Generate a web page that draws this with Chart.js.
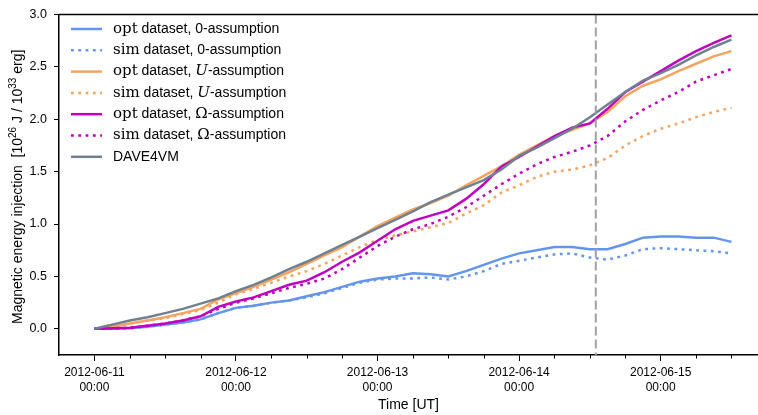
<!DOCTYPE html>
<html>
<head>
  <title>Magnetic energy injection</title>
  <script src="https://cdn.jsdelivr.net/npm/chart.js"></script>
  <style>
    body { margin: 0; background: #fff; overflow: hidden; }
  </style>
</head>
<body>
  <canvas id="energyChart" width="758" height="415"></canvas>

  <script>
    // hours since 2012-06-11 00:00 UT
    const hours = [0, 3, 6, 9, 12, 15, 18, 21, 24, 27, 30, 33, 36, 39, 42, 45, 48, 51, 54,
                   57, 60, 63, 66, 69, 72, 75, 78, 81, 84, 87, 90, 93, 96, 99, 102, 105, 108];
    const dayLabels = ['2012-06-11', '2012-06-12', '2012-06-13', '2012-06-14', '2012-06-15'];
    const hourLabel = '00:00';
    const yTicks = [0.0, 0.5, 1.0, 1.5, 2.0, 2.5, 3.0];
    const flareHour = 85;

    // energy injection [1e26 J]
    const optZero = [0, 0.0, 0.005, 0.02, 0.04, 0.06, 0.09, 0.15, 0.20, 0.22, 0.25, 0.27, 0.31,
                     0.35, 0.40, 0.45, 0.48, 0.50, 0.53, 0.52, 0.50, 0.55, 0.61, 0.67, 0.72,
                     0.75, 0.78, 0.78, 0.76, 0.76, 0.81, 0.87, 0.88, 0.88, 0.87, 0.87, 0.83];
    const simZero = [0, 0.0, 0.005, 0.02, 0.04, 0.06, 0.09, 0.15, 0.20, 0.22, 0.25, 0.27, 0.30,
                     0.34, 0.39, 0.44, 0.47, 0.48, 0.48, 0.49, 0.47, 0.50, 0.55, 0.62, 0.65,
                     0.68, 0.71, 0.72, 0.68, 0.66, 0.70, 0.76, 0.77, 0.76, 0.75, 0.74, 0.72];
    const optU = [0, 0.02, 0.05, 0.08, 0.11, 0.15, 0.19, 0.28, 0.34, 0.40, 0.47, 0.54, 0.62,
                  0.70, 0.78, 0.88, 0.98, 1.06, 1.14, 1.20, 1.27, 1.37, 1.46, 1.55, 1.66,
                  1.75, 1.84, 1.90, 1.96, 2.07, 2.22, 2.32, 2.38, 2.46, 2.53, 2.60, 2.65];
    const simU = [0, 0.02, 0.05, 0.08, 0.10, 0.14, 0.18, 0.25, 0.33, 0.38, 0.44, 0.50, 0.55,
                  0.62, 0.70, 0.78, 0.85, 0.89, 0.93, 0.97, 1.01, 1.10, 1.18, 1.30, 1.37,
                  1.45, 1.50, 1.52, 1.56, 1.63, 1.75, 1.84, 1.91, 1.96, 2.02, 2.07, 2.11];
    const optOmega = [0, 0.005, 0.01, 0.03, 0.05, 0.08, 0.12, 0.21, 0.26, 0.30, 0.36, 0.42, 0.46,
                      0.54, 0.64, 0.73, 0.84, 0.95, 1.03, 1.08, 1.13, 1.24, 1.38, 1.55, 1.64,
                      1.74, 1.84, 1.92, 1.96, 2.10, 2.26, 2.36, 2.46, 2.56, 2.65, 2.73, 2.80];
    const simOmega = [0, 0.005, 0.01, 0.03, 0.05, 0.08, 0.12, 0.19, 0.25, 0.29, 0.34, 0.39, 0.43,
                      0.48, 0.57, 0.68, 0.79, 0.88, 0.95, 1.00, 1.07, 1.16, 1.27, 1.38, 1.48,
                      1.57, 1.64, 1.69, 1.75, 1.84, 1.98, 2.09, 2.18, 2.26, 2.36, 2.42, 2.48];
    const dave4vm = [0, 0.04, 0.08, 0.11, 0.15, 0.19, 0.24, 0.29, 0.36, 0.42, 0.49, 0.57, 0.64,
                     0.72, 0.80, 0.88, 0.96, 1.04, 1.12, 1.21, 1.28, 1.35, 1.42, 1.52, 1.65,
                     1.73, 1.82, 1.91, 2.02, 2.14, 2.26, 2.37, 2.44, 2.52, 2.61, 2.69, 2.76];

    const BLUE = '#6495ED', ORANGE = '#F4A460', MAGENTA = '#BF00BF', GRAY = '#708090';
    const DOTS = [2.8, 4.5];
    const SANS = '"Liberation Sans", Arial, sans-serif';

    function series(values) {
      return hours.map((h, i) => ({ x: h, y: values[i] }));
    }

    function line(label, values, color, dotted, order) {
      return {
        label: label,
        data: series(values),
        borderColor: color,
        borderWidth: 2.5,
        borderDash: dotted ? DOTS : [],
        borderCapStyle: 'butt',
        pointRadius: 0,
        fill: false,
        tension: 0,
        order: order
      };
    }

    // legend pieces: [text, style]
    const legendParts = [
      [['opt', 'serif'], [' dataset, 0-assumption', 'sans']],
      [['sim', 'serif'], [' dataset, 0-assumption', 'sans']],
      [['opt', 'serif'], [' dataset, ', 'sans'], ['U', 'italic'], ['-assumption', 'sans']],
      [['sim', 'serif'], [' dataset, ', 'sans'], ['U', 'italic'], ['-assumption', 'sans']],
      [['opt', 'serif'], [' dataset, ', 'sans'], ['\u03A9', 'serif'], ['-assumption', 'sans']],
      [['sim', 'serif'], [' dataset, ', 'sans'], ['\u03A9', 'serif'], ['-assumption', 'sans']],
      [['DAVE4VM', 'sans']]
    ];
    // y title pieces: [text, superscript?]
    const yTitleParts = [
      ['Magnetic energy injection  [10', false], ['26', true], [' J / 10', false],
      ['33', true], [' erg]', false]
    ];
    const fonts = {
      sans: '14px ' + SANS,
      sup: '10px ' + SANS,
      serif: '15px "DejaVu Serif", "Liberation Serif", serif',
      italic: 'italic 15px "DejaVu Serif", "Liberation Serif", serif'
    };

    const extras = {
      id: 'extras',
      afterDatasetsDraw(chart) {
        const ctx = chart.ctx;
        const area = chart.chartArea;
        const xs = chart.scales.x;

        // flare marker
        const fx = xs.getPixelForValue(flareHour);
        ctx.save();
        ctx.strokeStyle = '#A0A0A0';
        ctx.lineWidth = 2;
        ctx.setLineDash([9, 4]);
        ctx.beginPath();
        ctx.moveTo(fx, area.top);
        ctx.lineTo(fx, area.bottom);
        ctx.stroke();
        ctx.restore();
      },
      afterDraw(chart) {
        const ctx = chart.ctx;
        const area = chart.chartArea;
        const xs = chart.scales.x;
        ctx.save();

        // top spine
        ctx.strokeStyle = '#000';
        ctx.lineWidth = 1.5;
        ctx.beginPath();
        ctx.moveTo(area.left - 0.75, area.top);
        ctx.lineTo(area.right, area.top);
        ctx.stroke();

        // minor ticks every 6 h
        ctx.lineWidth = 1;
        xs.ticks.forEach(t => {
          if (t.value % 24 !== 0) {
            const px = Math.round(xs.getPixelForValue(t.value)) + 0.5;
            ctx.beginPath();
            ctx.moveTo(px, area.bottom);
            ctx.lineTo(px, area.bottom + 3.5);
            ctx.stroke();
          }
        });

        // y axis title with superscripts
        ctx.save();
        ctx.translate(18, (area.top + area.bottom) / 2 + 2);
        ctx.rotate(-Math.PI / 2);
        ctx.fillStyle = '#000';
        ctx.textBaseline = 'middle';
        let total = 0;
        yTitleParts.forEach(([text, sup]) => {
          ctx.font = sup ? fonts.sup : fonts.sans;
          total += ctx.measureText(text).width;
        });
        let tx = -total / 2;
        yTitleParts.forEach(([text, sup]) => {
          ctx.font = sup ? fonts.sup : fonts.sans;
          ctx.fillText(text, tx, sup ? -5 : 0);
          tx += ctx.measureText(text).width;
        });
        ctx.restore();

        // legend
        const ds = chart.data.datasets;
        ctx.textBaseline = 'middle';
        legendParts.forEach((parts, i) => {
          const y = 29 + i * 21.3;
          ctx.strokeStyle = ds[i].borderColor;
          ctx.lineWidth = 2.5;
          ctx.setLineDash(ds[i].borderDash);
          ctx.beginPath();
          ctx.moveTo(71, y);
          ctx.lineTo(102, y);
          ctx.stroke();
          ctx.setLineDash([]);
          ctx.fillStyle = '#000';
          let x = 113;
          parts.forEach(([text, style]) => {
            ctx.font = fonts[style];
            ctx.fillText(text, x, y);
            x += ctx.measureText(text).width;
          });
        });
        ctx.restore();
      }
    };

    const ctx = document.getElementById('energyChart').getContext('2d');
    new Chart(ctx, {
      type: 'line',
      data: {
        datasets: [
          line('opt dataset, 0-assumption', optZero, BLUE, false, 7),
          line('sim dataset, 0-assumption', simZero, BLUE, true, 6),
          line('opt dataset, U-assumption', optU, ORANGE, false, 5),
          line('sim dataset, U-assumption', simU, ORANGE, true, 4),
          line('opt dataset, \u03A9-assumption', optOmega, MAGENTA, false, 3),
          line('sim dataset, \u03A9-assumption', simOmega, MAGENTA, true, 2),
          line('DAVE4VM', dave4vm, GRAY, false, 1)
        ]
      },
      options: {
        responsive: false,
        animation: false,
        devicePixelRatio: 1,
        layout: { padding: { top: 10, right: 0, left: 0, bottom: 0 } },
        plugins: {
          legend: { display: false },
          tooltip: { enabled: false }
        },
        scales: {
          x: {
            type: 'linear',
            min: -6,
            max: 112.5,
            afterBuildTicks: axis => {
              const ticks = [];
              for (let h = 0; h <= 108; h += 6) ticks.push({ value: h });
              axis.ticks = ticks;
            },
            afterFit: axis => { axis.height = 60; },
            ticks: {
              autoSkip: false,
              maxRotation: 0,
              color: '#000',
              padding: 4,
              font: { family: SANS, size: 12, lineHeight: 1.25 },
              callback: v => (v % 24 === 0 ? [dayLabels[v / 24], hourLabel] : '')
            },
            grid: {
              drawOnChartArea: false,
              tickLength: 6,
              tickWidth: 1,
              tickColor: c => (c.tick && c.tick.value % 24 === 0 ? '#000' : 'rgba(0,0,0,0)')
            },
            border: { color: '#000', width: 1.5 },
            title: {
              display: true,
              text: 'Time [UT]',
              color: '#000',
              font: { family: SANS, size: 14 },
              padding: { top: 0, bottom: 1 }
            }
          },
          y: {
            min: -0.25,
            max: 3.0,
            afterBuildTicks: axis => {
              axis.ticks = yTicks.map(v => ({ value: v }));
            },
            afterFit: axis => { axis.width = 59; },
            ticks: {
              color: '#000',
              padding: 7,
              font: { family: SANS, size: 12.5 },
              callback: v => v.toFixed(1)
            },
            grid: {
              drawOnChartArea: false,
              tickLength: 5,
              tickWidth: 1,
              tickColor: '#000'
            },
            border: { color: '#000', width: 1.5 }
          }
        }
      },
      plugins: [extras]
    });
  </script>
</body>
</html>
